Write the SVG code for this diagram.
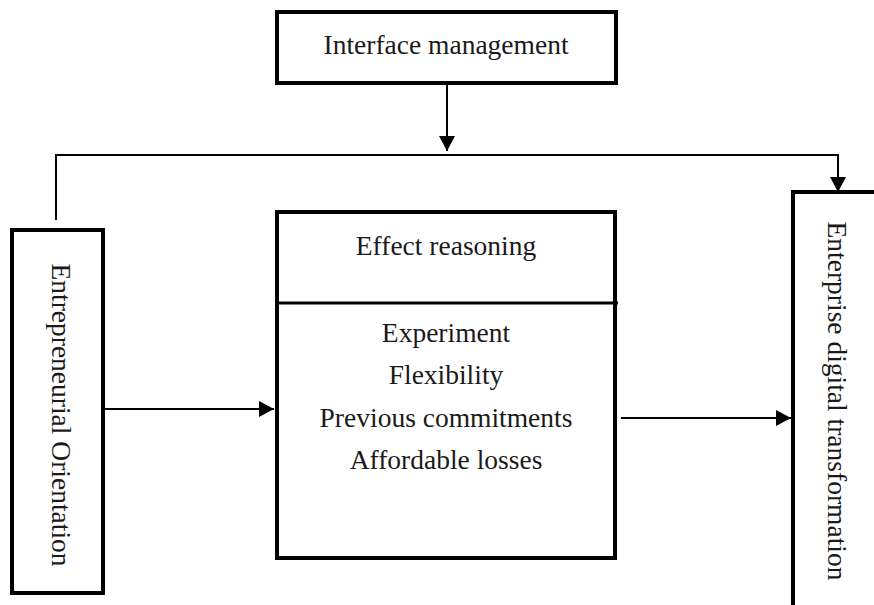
<svg xmlns="http://www.w3.org/2000/svg" width="874" height="605" viewBox="0 0 874 605">
  <style>
    .box { fill: #ffffff; stroke: #000000; stroke-width: 4; }
    .lbl { font-family: "Liberation Serif", "Times New Roman", serif; font-size: 27.5px; fill: #1a1a1a; text-anchor: middle; }
    .conn { fill: none; stroke: #000000; stroke-width: 2; }
  </style>
  <defs>
    <marker id="ah" markerUnits="userSpaceOnUse" markerWidth="16" markerHeight="16" refX="15" refY="8" orient="auto">
      <path d="M0,0 L15,8 L0,16 Z" fill="#000000"/>
    </marker>
  </defs>
  <rect width="874" height="605" fill="#ffffff"/>

  <g id="node-interface">
    <rect class="box" x="277" y="12" width="339" height="71"/>
    <text class="lbl" x="446" y="54">Interface management</text>
  </g>

  <g id="node-orientation">
    <rect class="box" x="12" y="230" width="91" height="363"/>
    <text class="lbl" transform="translate(52,415) rotate(90)" x="0" y="0">Entrepreneurial Orientation</text>
  </g>

  <g id="node-effect">
    <rect class="box" x="277" y="212" width="338" height="346"/>
    <line x1="277" y1="303" x2="618" y2="303" stroke="#000000" stroke-width="3"/>
    <text class="lbl" x="446" y="255">Effect reasoning</text>
    <text class="lbl" x="446" y="342">Experiment</text>
    <text class="lbl" x="446" y="384">Flexibility</text>
    <text class="lbl" x="446" y="427">Previous commitments</text>
    <text class="lbl" x="446" y="469">Affordable losses</text>
  </g>

  <g id="node-digital">
    <rect class="box" x="793" y="192" width="130" height="460"/>
    <text class="lbl" transform="translate(828,401) rotate(90)" x="0" y="0">Enterprise digital transformation</text>
  </g>

  <g id="connectors">
    <line class="conn" x1="447" y1="83" x2="447" y2="151" marker-end="url(#ah)"/>
    <path class="conn" d="M56,220 V155 H838 V192" marker-end="url(#ah)"/>
    <line class="conn" x1="103" y1="409" x2="274" y2="409" marker-end="url(#ah)"/>
    <line class="conn" x1="621" y1="418" x2="791" y2="418" marker-end="url(#ah)"/>
  </g>
</svg>
